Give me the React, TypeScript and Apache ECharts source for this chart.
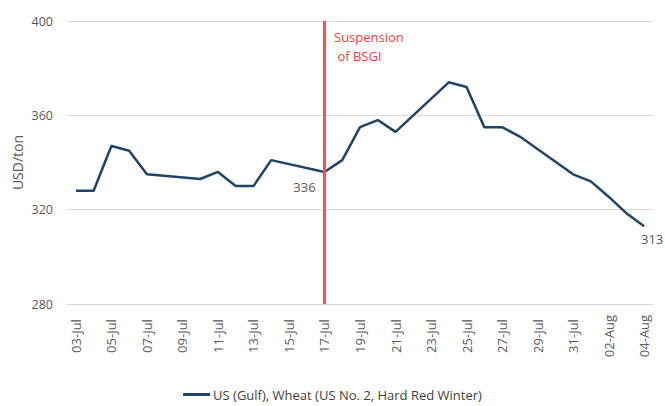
import React, { useEffect, useRef } from "react";
import * as echarts from "echarts";

const dates = [
  "03-Jul", "04-Jul", "05-Jul", "06-Jul", "07-Jul", "08-Jul", "09-Jul", "10-Jul",
  "11-Jul", "12-Jul", "13-Jul", "14-Jul", "15-Jul", "16-Jul", "17-Jul", "18-Jul",
  "19-Jul", "20-Jul", "21-Jul", "22-Jul", "23-Jul", "24-Jul", "25-Jul", "26-Jul",
  "27-Jul", "28-Jul", "29-Jul", "30-Jul", "31-Jul", "01-Aug", "02-Aug", "03-Aug", "04-Aug",
];
const wheat: (number | null)[] = [
  328, 328, 347, 345, 335, null, null, 333,
  336, 330, 330, 341, null, null, 336, 341,
  355, 358, 353, null, null, 374, 372, 355,
  355, 351, null, null, 335, 332, 325.5, 318.5, 313,
];
const seriesName = "US (Gulf), Wheat (US No. 2, Hard Red Winter)";
const eventDate = "17-Jul";
const eventText = "Suspension\n of BSGI";
const yTicks = { min: 280, max: 400, interval: 40 };
const labelledDates = ["17-Jul", "04-Aug"];
const labelOffsets: number[][] = [[-20, 15], [8, 13]];

export default function App() {
  const ref = useRef<HTMLDivElement>(null);
  useEffect(() => {
    if (!ref.current) return;
    const chart = echarts.init(ref.current, null, { renderer: "svg" });
    const font = "'Open Sans', sans-serif";
    const markPoints = labelledDates.map((d, k) => {
      const i = dates.indexOf(d);
      const v = wheat[i] as number;
      return {
        coord: [d, v],
        value: Math.round(v),
        label: { offset: labelOffsets[k] },
      };
    });
    chart.setOption({
      animation: false,
      textStyle: { fontFamily: font },
      grid: { left: 67, right: 12, top: 21, bottom: 102 },
      legend: {
        bottom: 0,
        left: "center",
        icon: "rect",
        itemWidth: 27,
        itemHeight: 3,
        itemGap: 4,
        textStyle: { color: "#404040", fontSize: 13, fontFamily: font, padding: [0, 0, 0, -2] },
        data: [seriesName],
      },
      xAxis: {
        type: "category",
        data: dates,
        boundaryGap: true,
        axisLine: { show: true, lineStyle: { color: "#d9d9d9" } },
        axisTick: { show: false },
        axisLabel: {
          interval: 1,
          rotate: 90,
          align: "center",
          verticalAlign: "middle",
          color: "#595959",
          fontSize: 13,
          fontFamily: font,
          margin: 32,
        },
      },
      yAxis: {
        type: "value",
        min: yTicks.min,
        max: yTicks.max,
        interval: yTicks.interval,
        name: "USD/ton",
        nameLocation: "middle",
        nameGap: 43,
        nameMoveOverlap: false,
        nameTextStyle: { color: "#595959", fontSize: 14, fontFamily: font },
        axisLine: { show: false },
        axisTick: { show: false },
        axisLabel: { color: "#595959", fontSize: 12.5, fontFamily: font, margin: 14 },
        splitLine: { lineStyle: { color: "#d9d9d9", width: 1 } },
      },
      series: [
        {
          name: seriesName,
          type: "line",
          data: wheat,
          connectNulls: true,
          showSymbol: false,
          symbol: "none",
          lineStyle: { color: "#1f4467", width: 2.5 },
          itemStyle: { color: "#1f4467" },
          markPoint: {
            silent: true,
            symbol: "circle",
            symbolSize: 0,
            itemStyle: { color: "transparent" },
            label: {
              show: true,
              position: "inside",
              color: "#595959",
              fontSize: 13,
              fontFamily: font,
              formatter: "{c}",
            },
            data: markPoints,
          },
          markLine: {
            silent: true,
            symbol: "none",
            label: { show: false },
            lineStyle: { color: "#ff4d4d", width: 3, type: "solid" },
            data: [{ xAxis: eventDate }],
          },
        },
      ],
      graphic: [
        {
          type: "text",
          left: 334,
          top: 27,
          style: {
            text: eventText,
            fill: "#ff3b3b",
            fontSize: 13,
            fontFamily: font,
            lineHeight: 19,
          },
        },
      ],
    });
    return () => chart.dispose();
  }, []);
  return <div ref={ref} style={{ width: 665, height: 406, position: "absolute", left: 0, top: 0 }} />;
}
